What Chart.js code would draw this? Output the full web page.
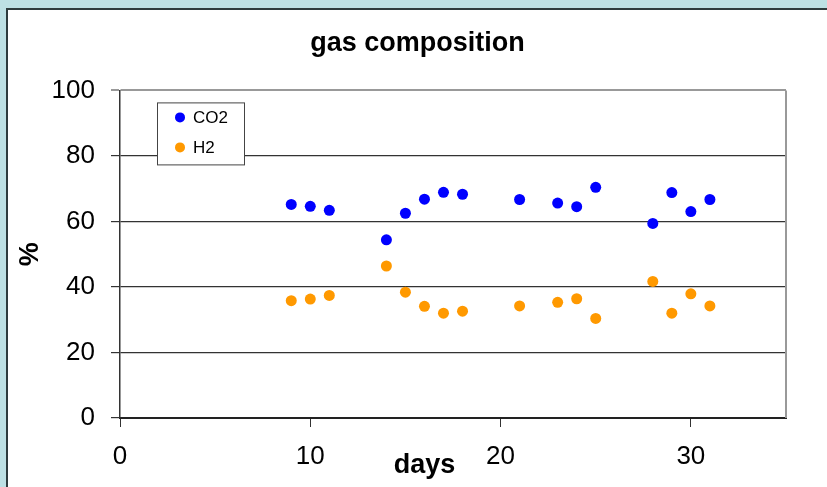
<!DOCTYPE html>
<html lang=en>

<head>
    <meta charset=UTF-8>
    <title>gas composition</title>
    <style>
        * {
            margin: 0;
            padding: 0;
        }

        body {
            background: #bde0e4;
            width: 827px;
            height: 487px;
            overflow: hidden;
            position: relative;
        }

        .panel {
            position: absolute;
            left: 6px;
            top: 8px;
            width: 840px;
            height: 500px;
            background: #fff;
            border-left: 2px solid #2e3b3d;
            border-top: 2px solid #2e3b3d;
        }

        canvas {
            display: block;
        }
    </style>
</head>

<body>
    <div class=panel>
        <canvas id="myChart" width="819" height="477"></canvas>
    </div>
    <script src="https://cdn.jsdelivr.net/npm/chart.js"></script>
    <script>
        const days = [9, 10, 11, 14, 15, 16, 17, 18, 21, 23, 24, 25, 28, 29, 30, 31]
        const co2 = [65.2, 64.6, 63.4, 54.4, 62.5, 66.8, 68.9, 68.3, 66.7, 65.6, 64.5, 70.4, 59.4, 68.8, 63.0, 66.7]
        const h2 = [35.8, 36.3, 37.4, 46.4, 38.4, 34.1, 32.0, 32.6, 34.2, 35.3, 36.4, 30.4, 41.7, 32.0, 37.9, 34.2]

        const font = "'Liberation Sans', Arial, sans-serif"

        // legend box inside the plot + the "days" label + right frame line
        const extras = {
            id: 'extras',
            beforeDatasetsDraw(chart) {
                const ctx = chart.ctx
                const a = chart.chartArea
                ctx.save()
                ctx.strokeStyle = '#999'
                ctx.lineWidth = 2
                ctx.beginPath()
                ctx.moveTo(a.right, a.top)
                ctx.lineTo(a.right, a.bottom)
                ctx.stroke()
                ctx.restore()
            },
            afterDatasetsDraw(chart) {
                const ctx = chart.ctx
                const a = chart.chartArea
                ctx.save()
                const bx = a.left + 37, by = a.top + 12
                ctx.fillStyle = '#fff'
                ctx.fillRect(bx, by, 87, 62)
                ctx.strokeStyle = '#444'
                ctx.lineWidth = 1
                ctx.strokeRect(bx + 0.5, by + 0.5, 87, 62)
                ctx.font = '17px ' + font
                ctx.textBaseline = 'middle'
                chart.data.datasets.forEach((ds, i) => {
                    const cy = by + 15 + i * 30
                    ctx.fillStyle = ds.backgroundColor
                    ctx.beginPath()
                    ctx.arc(bx + 23, cy, 5, 0, Math.PI * 2)
                    ctx.fill()
                    ctx.fillStyle = '#000'
                    ctx.fillText(ds.label, bx + 36, cy + 1)
                })
                ctx.font = 'bold 27px ' + font
                ctx.textAlign = 'center'
                ctx.textBaseline = 'alphabetic'
                ctx.fillText('days', 416.5, 463)
                ctx.restore()
            }
        }

        new Chart(document.getElementById('myChart'), {
            type: 'scatter',
            data: {
                datasets: [{
                    label: 'CO2',
                    data: days.map((d, i) => ({ x: d, y: co2[i] })),
                    backgroundColor: '#0000ff',
                    borderColor: '#0000ff',
                    pointRadius: 5.5,
                    borderWidth: 0
                }, {
                    label: 'H2',
                    data: days.map((d, i) => ({ x: d, y: h2[i] })),
                    backgroundColor: '#ff9900',
                    borderColor: '#ff9900',
                    pointRadius: 5.5,
                    borderWidth: 0
                }]
            },
            options: {
                responsive: false,
                animation: false,
                devicePixelRatio: 1,
                layout: { padding: 0 },
                plugins: {
                    legend: { display: false },
                    tooltip: { enabled: false },
                    title: {
                        display: true,
                        text: 'gas composition',
                        color: '#000',
                        font: { family: font, size: 27, weight: 'bold' },
                        padding: { top: 17, bottom: 31 }
                    }
                },
                scales: {
                    x: {
                        type: 'linear',
                        min: 0,
                        max: 35,
                        afterFit(s) { s.height = 69 },
                        ticks: {
                            stepSize: 10,
                            includeBounds: false,
                            color: '#000',
                            padding: 14,
                            font: { family: font, size: 26 }
                        },
                        grid: { drawOnChartArea: false, drawTicks: true, tickLength: 9, color: '#333' },
                        border: { display: true, color: '#222', width: 2 }
                    },
                    y: {
                        min: 0,
                        max: 100,
                        afterFit(s) { s.width = 112 },
                        ticks: {
                            stepSize: 20,
                            color: '#000',
                            padding: 16,
                            font: { family: font, size: 26 }
                        },
                        grid: {
                            tickLength: 9,
                            color: c => c.tick && c.tick.value === 100 ? '#999' : '#333',
                            lineWidth: c => c.tick && c.tick.value === 100 ? 2 : 1.2
                        },
                        border: { display: true, color: '#333', width: 1.5 },
                        title: {
                            display: true,
                            text: '%',
                            color: '#000',
                            font: { family: font, size: 27, weight: 'bold' },
                            padding: { top: 6, bottom: 0 }
                        }
                    },
                    // empty axis on the right, only keeps space so the title stays centred on the canvas
                    yRight: {
                        position: 'right',
                        min: 0,
                        max: 100,
                        afterFit(s) { s.width = 41 },
                        ticks: { display: false },
                        grid: { display: false },
                        border: { display: false }
                    }
                }
            },
            plugins: [extras]
        });
    </script>
</body>

</html>
